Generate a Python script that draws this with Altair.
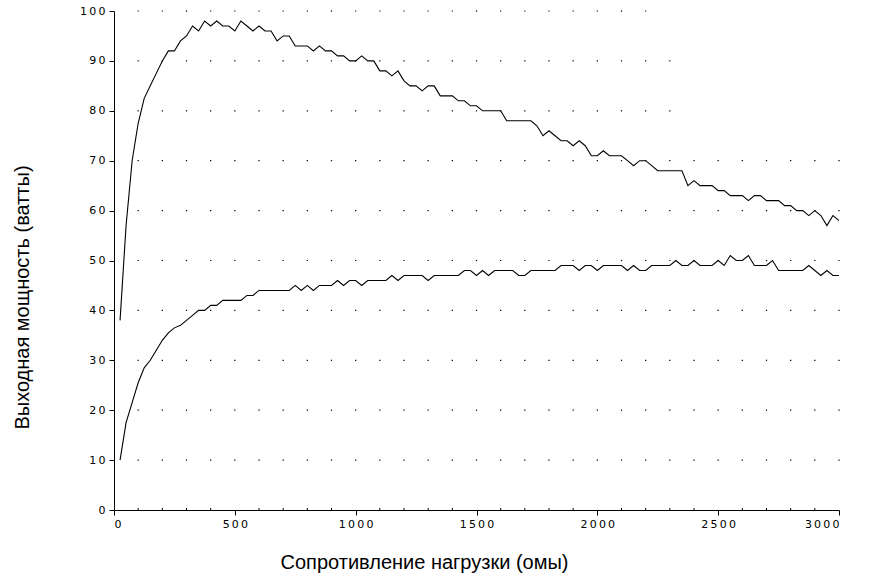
import altair as alt
import pandas as pd

# Load resistance (ohms) at which the output power was sampled
resistance = [
    25, 50, 75, 100, 125, 150, 175, 200, 225, 250, 275, 300, 325, 350, 375, 400,
    425, 450, 475, 500, 525, 550, 575, 600, 625, 650, 675, 700, 725, 750, 775, 800,
    825, 850, 875, 900, 925, 950, 975, 1000, 1025, 1050, 1075, 1100, 1125, 1150,
    1175, 1200, 1225, 1250, 1275, 1300, 1325, 1350, 1375, 1400, 1425, 1450, 1475,
    1500, 1525, 1550, 1575, 1600, 1625, 1650, 1675, 1700, 1725, 1750, 1775, 1800,
    1825, 1850, 1875, 1900, 1925, 1950, 1975, 2000, 2025, 2050, 2075, 2100, 2125,
    2150, 2175, 2200, 2225, 2250, 2275, 2300, 2325, 2350, 2375, 2400, 2425, 2450,
    2475, 2500, 2525, 2550, 2575, 2600, 2625, 2650, 2675, 2700, 2725, 2750, 2775,
    2800, 2825, 2850, 2875, 2900, 2925, 2950, 2975, 3000,
]

# Upper curve: output power (W)
upper_watts = [
    38, 57, 70, 77.5, 82.5, 85, 87.5, 90, 92, 92, 94, 95, 97, 96, 98, 97, 98, 97, 97, 96,
    98, 97, 96, 97, 96, 96, 94, 95, 95, 93, 93, 93, 92, 93, 92, 92, 91, 91, 90, 90,
    91, 90, 90, 88, 88, 87, 88, 86, 85, 85, 84, 85, 85, 83, 83, 83, 82, 82, 81, 81,
    80, 80, 80, 80, 78, 78, 78, 78, 78, 77, 75, 76, 75, 74, 74, 73, 74, 73, 71, 71,
    72, 71, 71, 71, 70, 69, 70, 70, 69, 68, 68, 68, 68, 68, 65, 66, 65, 65, 65, 64,
    64, 63, 63, 63, 62, 63, 63, 62, 62, 62, 61, 61, 60, 60, 59, 60, 59, 57, 59, 58,
]

# Lower curve: output power (W)
lower_watts = [
    10, 17.5, 21.5, 25.5, 28.5, 30, 32, 34, 35.5, 36.5, 37, 38, 39, 40, 40, 41, 41, 42, 42, 42,
    42, 43, 43, 44, 44, 44, 44, 44, 44, 45, 44, 45, 44, 45, 45, 45, 46, 45, 46, 46,
    45, 46, 46, 46, 46, 47, 46, 47, 47, 47, 47, 46, 47, 47, 47, 47, 47, 48, 48, 47,
    48, 47, 48, 48, 48, 48, 47, 47, 48, 48, 48, 48, 48, 49, 49, 49, 48, 49, 49, 48,
    49, 49, 49, 49, 48, 49, 48, 48, 49, 49, 49, 49, 50, 49, 49, 50, 49, 49, 49, 50,
    49, 51, 50, 50, 51, 49, 49, 49, 50, 48, 48, 48, 48, 48, 49, 48, 47, 48, 47, 47,
]

x_label_ticks = [0, 500, 1000, 1500, 2000, 2500, 3000]
y_ticks = [0, 10, 20, 30, 40, 50, 60, 70, 80, 90, 100]
grid_x = list(range(100, 3001, 100))
grid_y = list(range(10, 101, 10))

x_title = "Сопротивление нагрузки (омы)"
y_title = "Выходная мощность (ватты)"

lines = pd.DataFrame({
    "r": resistance + resistance,
    "p": upper_watts + lower_watts,
    "s": ["upper"] * len(resistance) + ["lower"] * len(resistance),
})

# dotted grid; upper-right corner is blank in the original
dots = pd.DataFrame(
    [(gx, gy) for gx in grid_x for gy in grid_y
     if not (gx >= 2400 and gy >= 80) and not (gx >= 2300 and gy == 100)],
    columns=["r", "p"],
)
minor = pd.DataFrame({"r": [v for v in grid_x if v % 500 != 0]})

xs = alt.Scale(domain=[0, 3000], nice=False, zero=False)
ys = alt.Scale(domain=[0, 100], nice=False)

spaced = "join(split(datum.label, ''), '\u2009')"

xaxis = alt.Axis(
    values=x_label_ticks, title=x_title, grid=False, format="d",
    tickSize=5, labelPadding=3, labelExpr=spaced,
    titleX=310, titleY=52, titleAlign="center", titleBaseline="middle",
)
yaxis = alt.Axis(
    values=y_ticks, title=y_title, grid=False, format="d",
    tickSize=5, labelPadding=4, labelExpr=spaced,
    titleX=-92, titleY=286, titleAngle=270, titleAlign="center", titleBaseline="middle",
)

X = alt.X("r:Q", scale=xs, axis=xaxis)

dot_layer = alt.Chart(dots).mark_square(size=1.5, color="black", opacity=1).encode(
    x=X, y=alt.Y("p:Q", scale=ys, axis=yaxis)
)
minor_layer = alt.Chart(minor).mark_rule(color="black", strokeWidth=1).encode(
    x=X,
    y=alt.YDatum(0, scale=ys, axis=yaxis),
    y2=alt.Y2Datum(0.4),
)
line_layer = alt.Chart(lines).mark_line(color="black", strokeWidth=1.1).encode(
    x=X, y=alt.Y("p:Q", scale=ys, axis=yaxis), detail="s:N"
)

chart = alt.layer(dot_layer, minor_layer, line_layer).properties(
    width=725,
    height=499,
    autosize=alt.AutoSizeParams(type="none"),
    padding={"left": 114, "top": 11, "right": 31, "bottom": 69},
    background="white",
).configure_view(stroke=None).configure_axis(
    domainColor="black", tickColor="black", labelColor="black",
    labelFont="DejaVu Sans", labelFontSize=11,
    titleFont="Liberation Sans", titleFontSize=20, titleFontWeight="normal",
    titleColor="black", domainWidth=1, tickWidth=1,
)

chart.save("out.html", embed_options={"renderer": "svg", "actions": False})
